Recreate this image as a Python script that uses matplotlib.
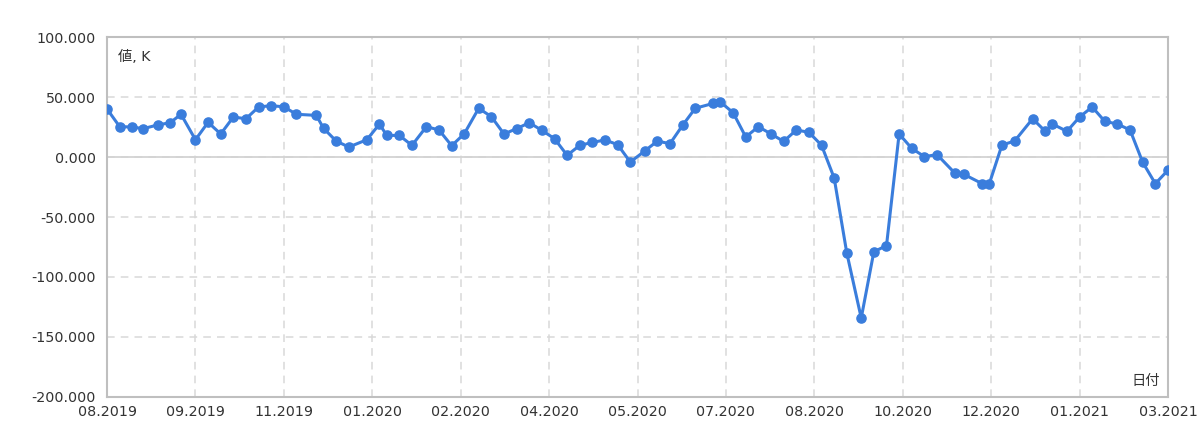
import matplotlib
matplotlib.use("Agg")
import matplotlib.pyplot as plt

plt.rcParams['font.family'] = ['DejaVu Sans', 'Noto Sans CJK JP']

# days since start of the x axis, and values (K)
days = [0, 7, 14, 20, 28, 35, 41, 49, 56, 63, 70, 77, 84, 91, 98, 105,
        116, 120, 127, 134, 144, 151, 155, 162, 169, 177, 184, 191, 198,
        206, 213, 220, 227, 234, 241, 248, 255, 262, 269, 276, 283, 290,
        298, 305, 312, 319, 326, 336, 340, 347, 354, 361, 368, 375, 382,
        389, 396, 403, 410, 418, 425, 432, 439, 446, 453, 460, 470, 475,
        485, 489, 496, 503, 513, 520, 524, 532, 539, 546, 553, 560, 567,
        574, 581, 588]
values = [40, 25.3, 25, 23.6, 26.7, 28.6, 35.6, 14.4, 28.9, 19.2, 33.3, 31.9,
          41.7, 42.8, 41.8, 35.6, 34.7, 23.9, 13.3, 8.3, 14.4, 27.5, 18, 18,
          9.7, 25.3, 22.5, 9.4, 19.4, 40.6, 33.6, 19.2, 23.6, 28.6, 22.2, 15.3,
          1.4, 9.7, 12.2, 14.2, 10.3, -4.2, 5, 13.3, 11.1, 26.4, 40.6, 44.7,
          45.8, 36.9, 16.7, 25.3, 19.2, 13, 22.5, 20.6, 9.8, -17.5, -80,
          -134.2, -78.9, -73.9, 19.2, 7.2, 0.3, 2, -13.6, -14.5, -22.2, -22.2,
          10, 13.3, 31.9, 21.4, 27.5, 21.4, 33.3, 41.7, 29.7, 27.5, 22.5,
          -4.4, -22.2, -11]

tick_labels = ["08.2019", "09.2019", "11.2019", "01.2020", "02.2020",
               "04.2020", "05.2020", "07.2020", "08.2020", "10.2020",
               "12.2020", "01.2021", "03.2021"]
y_ticks = [-200, -150, -100, -50, 0, 50, 100]

fig = plt.figure(figsize=(12, 4.46), dpi=100)
ax = fig.add_axes([0.0892, 0.1099, 0.8841, 0.8071])

ax.plot(days, values, color='#3a7ddc', linewidth=2.2, marker='o',
        markersize=6.6, clip_on=True, zorder=3)

ax.set_xlim(0, 588)
ax.set_ylim(-200, 100)
ax.set_xticks([i * 49 for i in range(len(tick_labels))])
ax.set_xticklabels(tick_labels)
ax.set_yticks(y_ticks)
ax.set_yticklabels([f"{v:.3f}" for v in y_ticks])

ax.grid(True, color='#d8d8d8', linestyle=(0, (5, 4)), linewidth=1.1)
ax.axhline(0, color='#d3d3d3', linewidth=1.3, zorder=1)
ax.set_axisbelow(True)

for s in ax.spines.values():
    s.set_color('#bfbfbf')
    s.set_linewidth(1.5)

ax.tick_params(length=0, labelsize=10.3, colors='#333333')
ax.tick_params(axis='y', pad=8)
ax.tick_params(axis='x', pad=6)

ax.text(0.01, 0.965, "値, K", transform=ax.transAxes, fontsize=10.3,
        color='#333333', ha='left', va='top')
ax.text(0.992, 0.025, "日付", transform=ax.transAxes, fontsize=10.3,
        color='#333333', ha='right', va='bottom')

fig.savefig("out.png", dpi=100)
